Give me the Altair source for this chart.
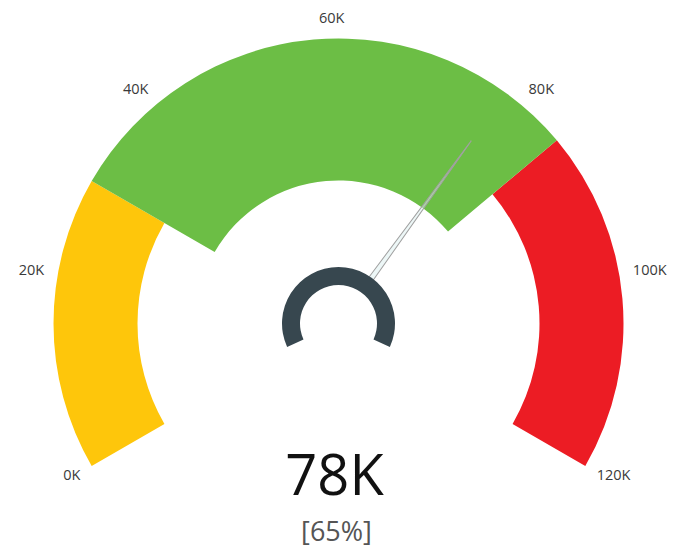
import altair as alt
import pandas as pd

# ---- data ----
band_names = ["low", "target", "high"]
band_start = [0, 30, 85]
band_end = [30, 85, 120]
band_colors = ["#FEC60B", "#6CBE45", "#EC1C24"]

tick_values = [0, 20, 40, 60, 80, 100, 120]
tick_labels = ["0K", "20K", "40K", "60K", "80K", "100K", "120K"]

gauge_min = 0
gauge_max = 120
current_value = 78

# ---- layout constants ----
W, H = 659, 540
CX, CY = 330.5, 315.5
R_OUT, R_IN, R_IN_GREEN = 285, 201, 143
R_LABEL = 305
PI = 3.141592653589793

bands = pd.DataFrame({"band": band_names, "start": band_start, "end": band_end})
ticks = pd.DataFrame({"v": tick_values, "label": tick_labels})
val = pd.DataFrame({
    "v": [current_value],
    "main": [f"{current_value}K"],
    "pct": [f"[{round(current_value / gauge_max * 100)}%]"],
})

theta_scale = alt.Scale(domain=[gauge_min, gauge_max], range=[-2 * PI / 3, 2 * PI / 3])
color_scale = alt.Scale(domain=band_names, range=band_colors)

base_bands = alt.Chart(bands).encode(
    theta=alt.Theta("start:Q", scale=theta_scale, stack=False),
    theta2="end:Q",
    color=alt.Color("band:N", scale=color_scale, legend=None),
    x=alt.value(CX),
    y=alt.value(CY),
)

side_bands = base_bands.transform_filter("datum.band != 'target'").mark_arc(
    radius=R_OUT, radius2=R_IN
)
green_band = base_bands.transform_filter("datum.band == 'target'").mark_arc(
    radius=R_OUT, radius2=R_IN_GREEN
)

needle = alt.Chart(val).mark_point(
    shape="M -0.012 -0.22 L 0 -1 L 0.012 -0.22 Z",
    size=204304,
    filled=True,
    fill="#dff0f0",
    fillOpacity=0.55,
    stroke="#a0a0a0",
    strokeWidth=1,
    opacity=1,
).encode(
    x=alt.value(CX),
    y=alt.value(CY),
    angle=alt.Angle("v:Q", scale=alt.Scale(domain=[gauge_min, gauge_max], range=[240, 480])),
)

hub = alt.Chart(val).mark_arc(
    radius=56.5, radius2=38.5, theta=2 * PI - 2.0, theta2=2 * PI + 2.0, color="#37474F"
).encode(x=alt.value(CX), y=alt.value(CY))

tick_left = alt.Chart(ticks).transform_filter("datum.v <= 60").mark_text(
    radius=R_LABEL, align="right", baseline="middle", dx=6,
    font="Open Sans", fontSize=14.5, color="#3a3a3a",
).encode(
    theta=alt.Theta("v:Q", scale=theta_scale, stack=False),
    text="label:N",
    x=alt.value(CX),
    y=alt.value(CY),
)
tick_right = alt.Chart(ticks).transform_filter("datum.v > 60").mark_text(
    radius=R_LABEL, align="left", baseline="middle", dx=-6,
    font="Open Sans", fontSize=14.5, color="#3a3a3a",
).encode(
    theta=alt.Theta("v:Q", scale=theta_scale, stack=False),
    text="label:N",
    x=alt.value(CX),
    y=alt.value(CY),
)

main_text = alt.Chart(val).mark_text(
    font="Open Sans", fontSize=56, color="#111111", align="center", baseline="alphabetic"
).encode(text="main:N", x=alt.value(CX - 4), y=alt.value(487))

pct_text = alt.Chart(val).mark_text(
    font="Open Sans", fontSize=27, color="#555555", align="center", baseline="alphabetic"
).encode(text="pct:N", x=alt.value(CX - 2), y=alt.value(533))

chart = alt.layer(
    side_bands, green_band, needle, hub, tick_left, tick_right, main_text, pct_text
).properties(
    width=W, height=H, padding=0, autosize=alt.AutoSizeParams(type="none")
).configure_view(stroke=None)

chart.save("out.html", embed_options={"renderer": "svg", "actions": False})
